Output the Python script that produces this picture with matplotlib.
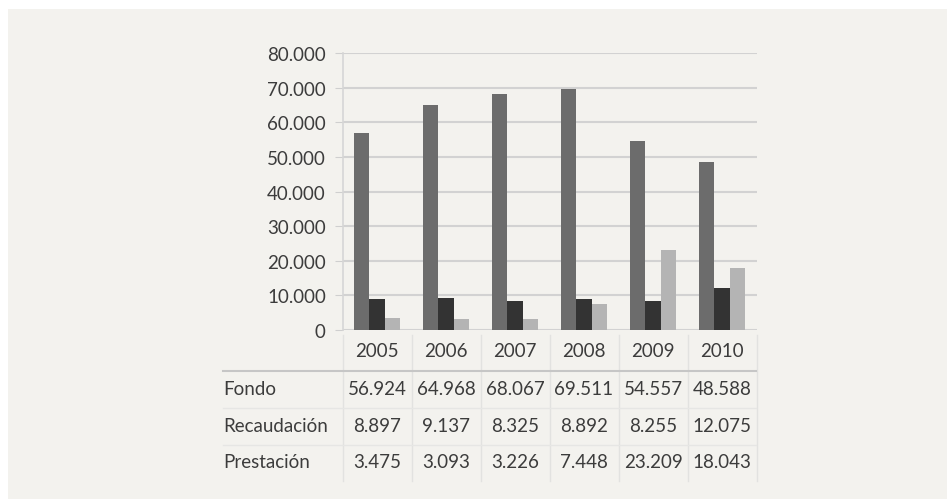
import matplotlib.pyplot as plt
from matplotlib.patches import Rectangle
from matplotlib.transforms import blended_transform_factory
import numpy as np

# Datos
anios = ['2005', '2006', '2007', '2008', '2009', '2010']
fondo = [56924, 64968, 68067, 69511, 54557, 48588]
recaudacion = [8897, 9137, 8325, 8892, 8255, 12075]
prestacion = [3475, 3093, 3226, 7448, 23209, 18043]
series = ['Fondo', 'Recaudación', 'Prestación']
colores = ['#6c6c6c', '#333333', '#b4b4b4']
yticks = [0, 10000, 20000, 30000, 40000, 50000, 60000, 70000, 80000]

W, H = 947, 502
plt.rcParams['font.family'] = ['Lato', 'DejaVu Sans']
texto = '#3c3c3c'
fondo_panel = '#f3f2ee'

fig = plt.figure(figsize=(W / 100, H / 100), dpi=100)
fig.patch.set_facecolor('white')
fig.patches.append(Rectangle((8 / W, 2 / H), 1, (490) / H, transform=fig.transFigure,
                             facecolor=fondo_panel, edgecolor='none', zorder=-10))

ax = fig.add_axes([342.5 / W, (H - 331) / H, 414 / W, 277 / H])
ax.set_facecolor('none')

def fmt(v):
    return f'{v:,}'.replace(',', '.')

# Barras agrupadas
x = np.arange(len(anios))
ancho = 0.227
for i, (vals, col) in enumerate(zip([fondo, recaudacion, prestacion], colores)):
    ax.bar(x + (i - 1) * ancho, vals, ancho, color=col, zorder=3)

ax.set_xlim(-0.5, len(anios) - 0.5)
ax.set_ylim(0, 80000)
ax.set_yticks(yticks)
ax.set_yticklabels([fmt(v) for v in yticks], fontsize=13.5, color=texto)
ax.tick_params(axis='y', length=6, color='#cfcfcf', pad=6)
ax.set_xticks([])
ax.grid(axis='y', color='#d2d2d2', linewidth=1.5, zorder=1)
for s in ['top', 'right', 'bottom']:
    ax.spines[s].set_visible(False)
ax.spines['left'].set_color('#d6d6d6')
ax.spines['left'].set_linewidth(1.2)

# Tabla de datos debajo del gráfico
tr = blended_transform_factory(ax.transData, fig.transFigure)
trf = fig.transFigure

def fy(py):
    return (H - py) / H

for i, a in enumerate(anios):
    ax.text(i, fy(352), a, transform=tr, ha='center', va='center',
            fontsize=13.5, color=texto)

filas_y = [390, 427, 463]
for nombre, vals, py in zip(series, [fondo, recaudacion, prestacion], filas_y):
    fig.text(223 / W, fy(py), nombre, ha='left', va='center', fontsize=13.5, color=texto)
    for i, v in enumerate(vals):
        ax.text(i, fy(py), fmt(v), transform=tr, ha='center', va='center',
                fontsize=13.5, color=texto)

# Líneas de la tabla
fig.add_artist(plt.Line2D([223 / W, 756 / W], [fy(372), fy(372)], transform=trf,
                          color='#c6c6c6', linewidth=1.5))
for py in [409, 446]:
    fig.add_artist(plt.Line2D([223 / W, 756 / W], [fy(py), fy(py)], transform=trf,
                              color='#e6e6e4', linewidth=1))
for i in range(len(anios) + 1):
    ax.plot([i - 0.5, i - 0.5], [fy(336), fy(482)], transform=tr, color='#e2e2e0',
            linewidth=1, clip_on=False)

fig.savefig('out.png', dpi=100, facecolor=fig.get_facecolor())
